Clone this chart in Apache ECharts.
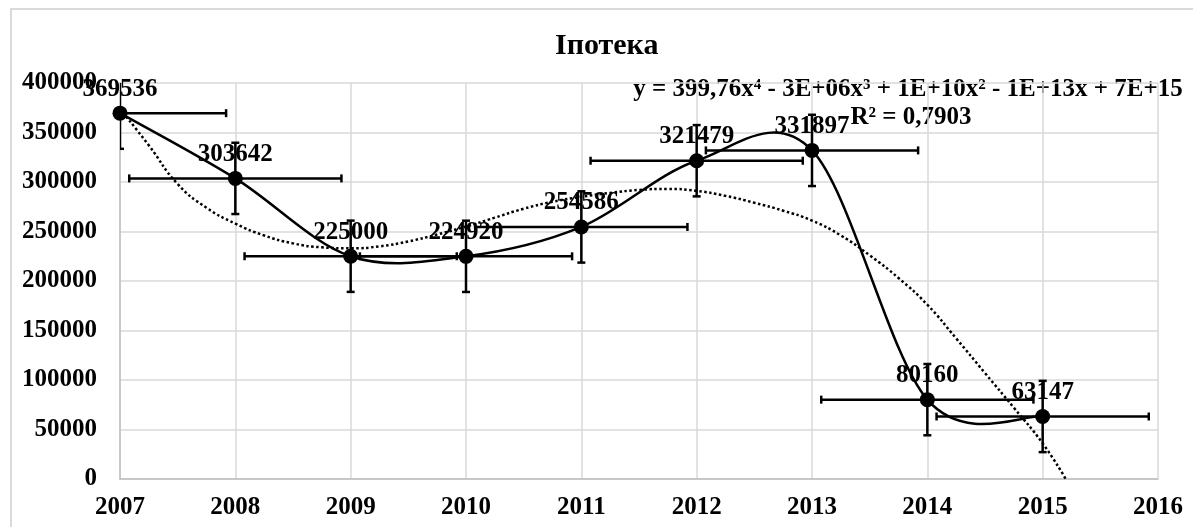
<!DOCTYPE html>
<html>
<head>
<meta charset="utf-8">
<script src="https://cdn.jsdelivr.net/npm/echarts@6/dist/echarts.min.js"></script>
<style>
  html, body { margin: 0; padding: 0; background: #fff; }
  #chart { width: 1193px; height: 527px; }
</style>
</head>
<body>
<div id="chart"></div>
<script>
// роки та значення
const years = [2007, 2008, 2009, 2010, 2011, 2012, 2013, 2014, 2015];
const values = [369536, 303642, 225000, 224920, 254586, 321479, 331897, 80160, 63147];
// похибки (стандартна похибка)
const xErr = 0.92;
const yErr = 36000;
// поліноміальний тренд
const trendX = [2007, 2007.25, 2007.5, 2007.75, 2008, 2008.25, 2008.5, 2008.75, 2009, 2009.25, 2009.5, 2009.75,
  2010, 2010.25, 2010.5, 2010.75, 2011, 2011.25, 2011.5, 2011.75, 2012, 2012.25, 2012.5, 2012.75,
  2013, 2013.25, 2013.5, 2013.75, 2014, 2014.25, 2014.5, 2014.75, 2015, 2015.2];
const trendY = [374000, 337000, 298000, 274000, 258000, 246000, 238000, 234000, 233000, 235000, 240000, 247000,
  255000, 264000, 273000, 280000, 285000, 289000, 292000, 293000, 291000, 286000, 279000, 271000,
  261000, 246000, 226000, 203000, 176000, 142000, 107000, 72000, 36000, 0];
const yTicks = [0, 50000, 100000, 150000, 200000, 250000, 300000, 350000, 400000];
const eqText = 'y = 399,76x⁴ - 3E+06x³ + 1E+10x² - 1E+13x + 7E+15';
const r2Text = 'R² = 0,7903';

const font = "'Liberation Serif', 'Times New Roman', 'DejaVu Serif', serif";

const myChart = echarts.init(document.getElementById('chart'));

const mainData = years.map((y, i) => [y, values[i]]);
const trendData = trendX.map((x, i) => [x, trendY[i]]);
const errData = years.map((y, i) => [y, values[i], xErr, yErr]);

// вуса похибок
function renderErr(params, api) {
  const x = api.value(0), y = api.value(1), ex = api.value(2), ey = api.value(3);
  const top = api.coord([x, y + ey]);
  const bot = api.coord([x, y - ey]);
  const l = api.coord([x - ex, y]);
  const r = api.coord([x + ex, y]);
  const cap = 4;
  const st = { stroke: '#000', lineWidth: 2.5 };
  const lines = [
    [top[0], top[1], bot[0], bot[1]],
    [top[0] - cap, top[1], top[0] + cap, top[1]],
    [bot[0] - cap, bot[1], bot[0] + cap, bot[1]],
    [l[0], l[1], r[0], r[1]],
    [l[0], l[1] - cap, l[0], l[1] + cap],
    [r[0], r[1] - cap, r[0], r[1] + cap]
  ];
  return {
    type: 'group',
    children: lines.map(p => ({
      type: 'line',
      shape: { x1: p[0], y1: p[1], x2: p[2], y2: p[3] },
      style: st
    }))
  };
}

// згладжена лінія як в Excel (Catmull-Rom, з перельотом)
function renderSmooth(params, api) {
  const i = params.dataIndex;
  if (i >= mainData.length - 1) return null;
  const pt = k => api.coord(mainData[Math.max(0, Math.min(mainData.length - 1, k))]);
  const p0 = pt(i - 1), p1 = pt(i), p2 = pt(i + 1), p3 = pt(i + 2);
  const t = 1 / 6;
  return {
    type: 'bezierCurve',
    shape: {
      x1: p1[0], y1: p1[1],
      cpx1: p1[0] + (p2[0] - p0[0]) * t, cpy1: p1[1] + (p2[1] - p0[1]) * t,
      cpx2: p2[0] - (p3[0] - p1[0]) * t, cpy2: p2[1] - (p3[1] - p1[1]) * t,
      x2: p2[0], y2: p2[1]
    },
    style: { stroke: '#000', lineWidth: 2.5, fill: null }
  };
}

myChart.setOption({
  animation: false,
  title: {
    text: 'Іпотека',
    left: 550,
    top: 26,
    textStyle: { fontFamily: font, fontSize: 30, fontWeight: 'bold', color: '#000' }
  },
  grid: { left: 120, right: 35, top: 83, bottom: 48 },
  xAxis: {
    type: 'value',
    min: 2007,
    max: 2016,
    interval: 1,
    axisLine: { lineStyle: { color: '#bfbfbf', width: 1.5 } },
    axisTick: { show: false },
    axisLabel: { fontFamily: font, fontSize: 25, fontWeight: 'bold', color: '#000', margin: 16, formatter: v => String(v) },
    splitLine: { show: true, lineStyle: { color: '#d9d9d9', width: 1.5 } }
  },
  yAxis: {
    type: 'value',
    min: yTicks[0],
    max: yTicks[yTicks.length - 1],
    interval: 50000,
    axisLine: { show: true, lineStyle: { color: '#bfbfbf', width: 1.5 } },
    axisTick: { show: false },
    axisLabel: { fontFamily: font, fontSize: 25, fontWeight: 'bold', color: '#000', margin: 23, formatter: v => String(v) },
    splitLine: { lineStyle: { color: '#d9d9d9', width: 1.5 } }
  },
  graphic: [
    {
      type: 'rect',
      silent: true,
      shape: { x: 11, y: 9, width: 1300, height: 700 },
      style: { fill: 'none', stroke: '#d9d9d9', lineWidth: 2 }
    },
    {
      type: 'text',
      x: 908,
      y: 90,
      style: { text: eqText, font: 'bold 25px ' + font, fill: '#000', align: 'center', verticalAlign: 'middle' }
    },
    {
      type: 'text',
      x: 911,
      y: 118,
      style: { text: r2Text, font: 'bold 25px ' + font, fill: '#000', align: 'center', verticalAlign: 'middle' }
    }
  ],
  series: [
    {
      type: 'line',
      name: 'trend',
      data: trendData,
      smooth: true,
      symbol: 'none',
      z: 1,
      lineStyle: { color: '#000', width: 2.5, type: [2.5, 2.5] }
    },
    {
      type: 'custom',
      name: 'err',
      data: errData,
      renderItem: renderErr,
      clip: true,
      z: 2
    },
    {
      type: 'custom',
      name: 'smooth',
      data: mainData,
      renderItem: renderSmooth,
      clip: true,
      z: 3
    },
    {
      type: 'scatter',
      name: 'Іпотека',
      data: mainData,
      symbol: 'circle',
      symbolSize: 15,
      z: 4,
      itemStyle: { color: '#000', opacity: 1 },
      label: {
        show: true,
        position: 'top',
        distance: 4,
        fontFamily: font,
        fontSize: 25,
        fontWeight: 'bold',
        color: '#000',
        formatter: p => String(p.value[1])
      }
    }
  ]
});
</script>
</body>
</html>
